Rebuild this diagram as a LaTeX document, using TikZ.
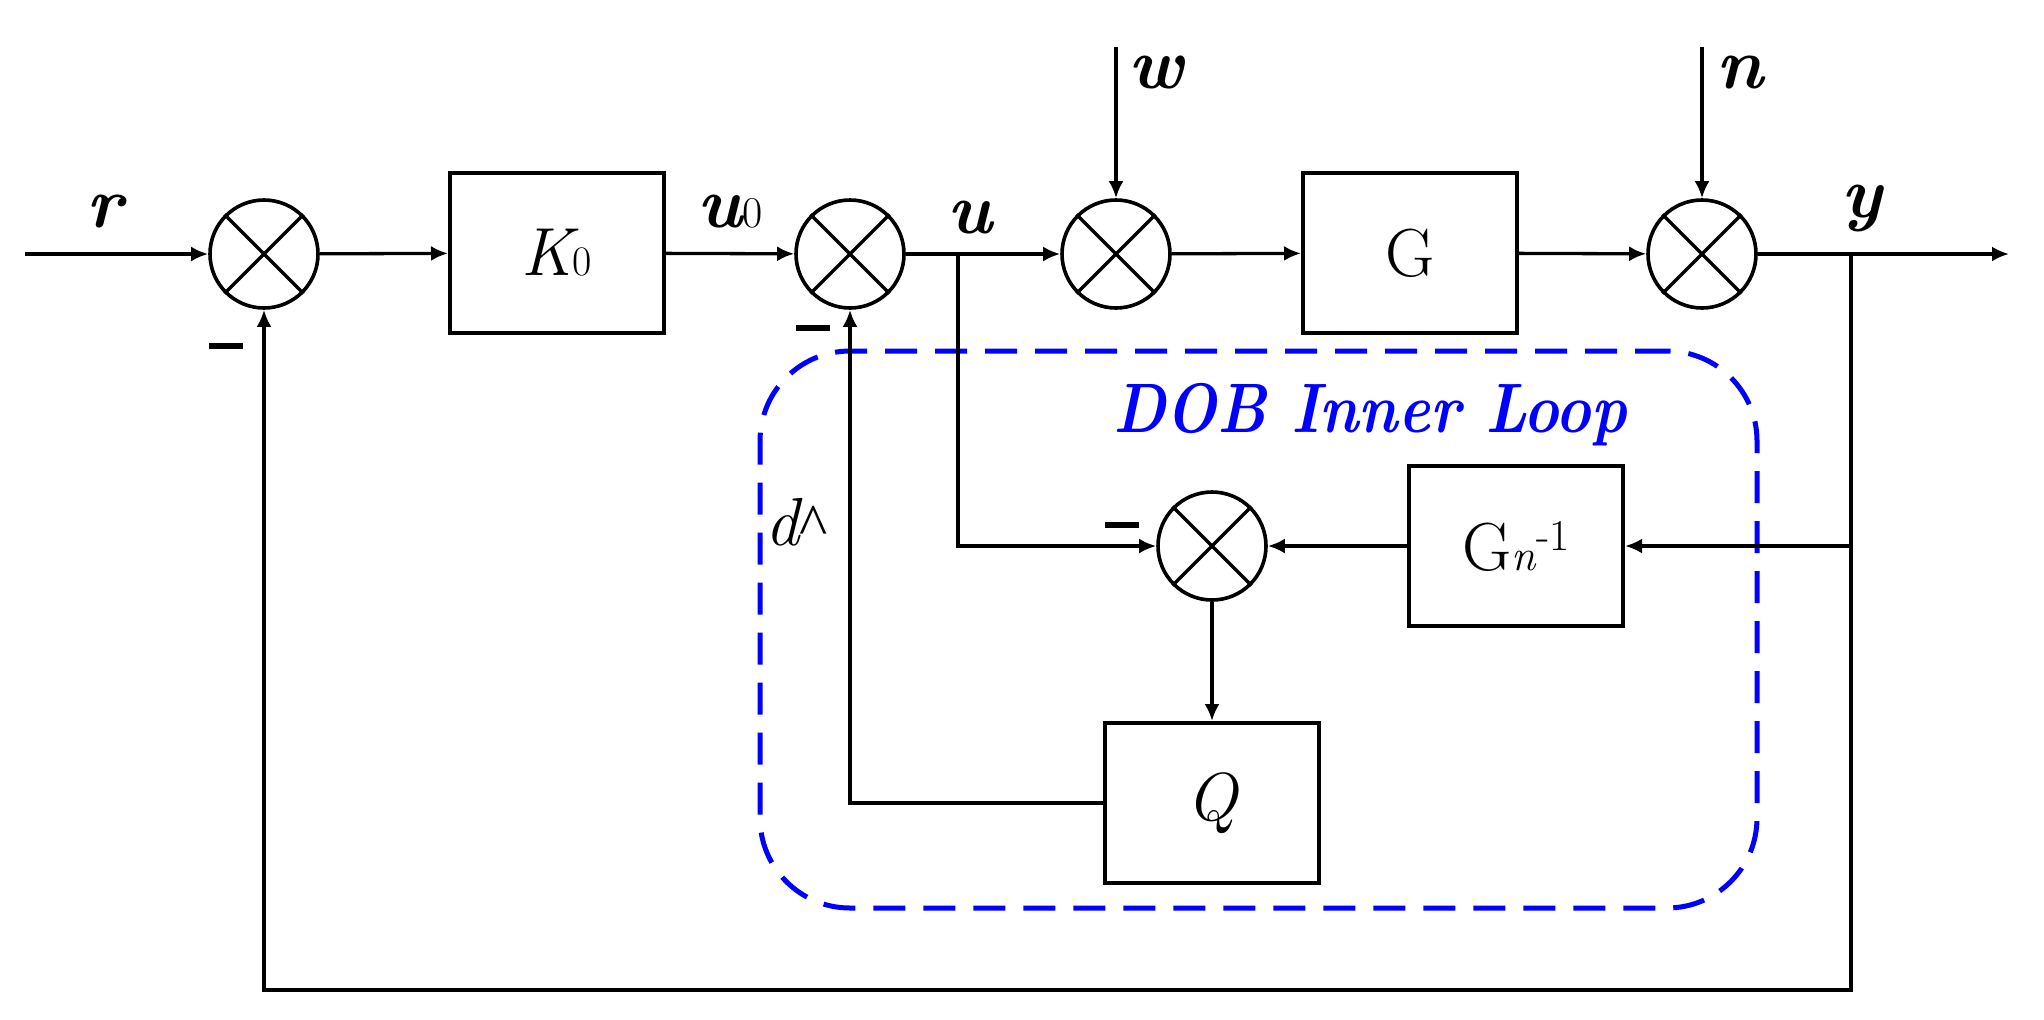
\documentclass[tikz,border=0pt]{standalone}
\usepackage{fontspec}
\newfontfamily\caretfont{Liberation Serif}
\usetikzlibrary{arrows.meta}
\begin{document}
\begin{tikzpicture}[x=0.5pt,y=-0.5pt,
  sig/.style={line width=1.65pt},
  arr/.style={sig,-{Latex[length=8.5pt,width=7.5pt]}},
  sumnode/.style={circle,draw,line width=1.8pt,minimum size=54pt,inner sep=0pt},
  sumx/.style={line width=1.7pt},
  blk/.style={draw,line width=2pt,minimum width=107pt,minimum height=80pt,inner sep=0pt,font=\fontsize{34}{40}\selectfont},
  lab/.style={inner sep=0pt,anchor=base,font=\fontsize{36}{40}\selectfont\bfseries\itshape},
  plainlab/.style={inner sep=0pt,anchor=base,font=\fontsize{34}{40}\selectfont},
  minus/.style={fill=black,inner sep=0pt,minimum width=17pt,minimum height=2.6pt},
  dobbox/.style={draw=blue,line width=2.5pt,dash pattern=on 16pt off 9pt,rounded corners=45pt,minimum width=498.5pt,minimum height=278.5pt,inner sep=0pt},
  doblab/.style={text=blue,font=\fontsize{35}{40}\selectfont\bfseries\itshape,inner sep=0pt,anchor=base}
]
\useasboundingbox (0,0) rectangle (2044,1019);
\node[dobbox] (dob) at (1258.5,629.5) {};
\node[doblab] (doblabel) at (1370,432) {\scalebox{0.86}[1]{DOB Inner Loop}};

\node[sumnode] (s1) at (264,254) {};
\node[sumnode] (s2) at (850,254) {};
\node[sumnode] (s3) at (1116,254) {};
\node[sumnode] (s4) at (1702,254) {};
\node[sumnode] (s5) at (1212,546) {};
\foreach \s in {s1,s2,s3,s4,s5} \draw[sumx] (\s.45) -- (\s.225) (\s.135) -- (\s.315);

\node[blk] (k0) at (557,253) {{\itshape K}{\fontsize{21}{21}\selectfont 0}};
\node[blk] (g) at (1410,253) {G};
\node[blk] (gn) at (1516,546) {G{\itshape\fontsize{22}{22}\selectfont n}\raisebox{10pt}{\fontsize{22}{22}\selectfont -1}};
\node[blk] (q) at (1212,803) {\itshape Q};

\coordinate (in) at (25,254);
\coordinate (ub) at (958,254);
\coordinate (yb) at (1851,254);
\coordinate (fb) at (1851,990);
\coordinate (out) at (2009,254);
\coordinate (wt) at (1116,47);
\coordinate (nt) at (1702,47);

\draw[arr] (in) -- (s1);
\draw[arr] (s1) -- (k0);
\draw[arr] (k0) -- (s2);
\draw[arr] (s2) -- (s3);
\draw[arr] (s3) -- (g);
\draw[arr] (g) -- (s4);
\draw[arr] (s4) -- (out);
\draw[arr] (wt) -- (s3);
\draw[arr] (nt) -- (s4);
\draw[arr] (ub) |- (s5);
\draw[arr] (yb) |- (gn);
\draw[arr] (yb) -- (fb) -| (s1);
\draw[arr] (gn) -- (s5);
\draw[arr] (s5) -- (q);
\draw[arr] (q) -| (s2);

\node[minus] (m1) at (226,346) {};
\node[minus] (m2) at (813,328) {};
\node[minus] (m3) at (1122,525) {};

\node[lab] (lr) at (105,227) {r};
\node[lab] (lu0) at (730,227) {u{\mdseries\upshape\fontsize{22}{22}\selectfont 0}};
\node[lab] (lu) at (970,233) {u};
\node[lab] (lw) at (1156,88) {w};
\node[lab] (ln) at (1740,88) {n};
\node[lab] (ly) at (1862,217) {y};
\node[plainlab] (ld) at (797,545) {{\itshape d}{\caretfont\fontsize{30}{30}\selectfont\symbol{94}}};
\end{tikzpicture}
\end{document}
